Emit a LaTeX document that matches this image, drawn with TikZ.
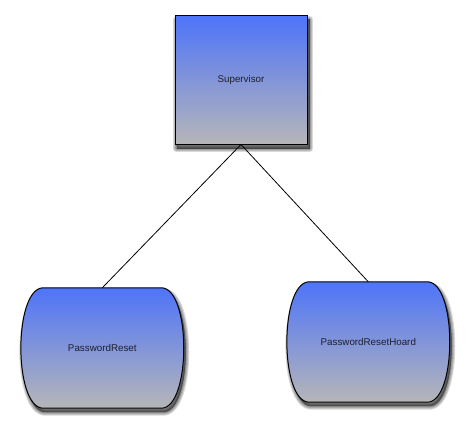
\documentclass[tikz,border=0pt]{standalone}
\usepackage{fontspec}
\setmainfont{Liberation Sans}
\usetikzlibrary{backgrounds}
\definecolor{ActorTop}{HTML}{4E74F9}
\definecolor{ActorBottom}{HTML}{B6B6B8}
\definecolor{ActorText}{HTML}{1E1E2E}

% outline of a barrel round node #1, moved by #2
\newcommand\barrelpath[2]{%
  ([shift={#2},xshift=22pt]#1.north west) -- ([shift={#2},xshift=-22pt]#1.north east)
  .. controls ([shift={#2},xshift=7pt,yshift=-2pt]#1.north east)
  and ([shift={#2},xshift=7pt,yshift=2pt]#1.south east)
  .. ([shift={#2},xshift=-22pt]#1.south east) -- ([shift={#2},xshift=22pt]#1.south west)
  .. controls ([shift={#2},xshift=-7pt,yshift=2pt]#1.south west)
  and ([shift={#2},xshift=-7pt,yshift=-2pt]#1.north west)
  .. cycle}

\tikzset{
  actor/.style={draw=black, line width=1pt, top color=ActorTop,
    bottom color=ActorBottom, text=ActorText,
    minimum width=132pt, minimum height=128pt,
    font=\fontsize{9.8}{11}\selectfont},
  store/.style={minimum width=163pt, minimum height=120pt, text=ActorText,
    font=\fontsize{9.8}{11}\selectfont},
  storeedge/.style={draw=black, line width=1pt, top color=ActorTop,
    bottom color=ActorBottom},
  shadecopy/.style={draw=black, fill=black, opacity=0.15, line join=round},
  link/.style={draw=black, line width=0.8pt}
}

\begin{document}
\begin{tikzpicture}[x=1pt,y=-1pt]
  \useasboundingbox (0,0) rectangle (470,433);
  % actors
  \node[actor] (sup) at (241,80) {Supervisor};
  \node[store] (reset) at (102.3,348) {PasswordReset};
  \node[store] (hoard) at (368.3,342) {PasswordResetHoard};
  % soft shadows and barrel outlines behind the labels
  \begin{scope}[on background layer]
    \foreach \w in {7,5,3,1}{
      \path[shadecopy, line width=\w pt] ([shift={(2,4)}]sup.north west)
        rectangle ([shift={(2,4)}]sup.south east);
      \path[shadecopy, line width=\w pt] \barrelpath{reset}{(2,4)};
      \path[shadecopy, line width=\w pt] \barrelpath{hoard}{(2,4)};
    }
    \foreach \n in {reset,hoard}{
      \path[storeedge] \barrelpath{\n}{(0,0)};
    }
  \end{scope}
  % links
  \draw[link] (sup.south) -- (reset.north);
  \draw[link] (sup.south) -- (hoard.north);
\end{tikzpicture}
\end{document}
